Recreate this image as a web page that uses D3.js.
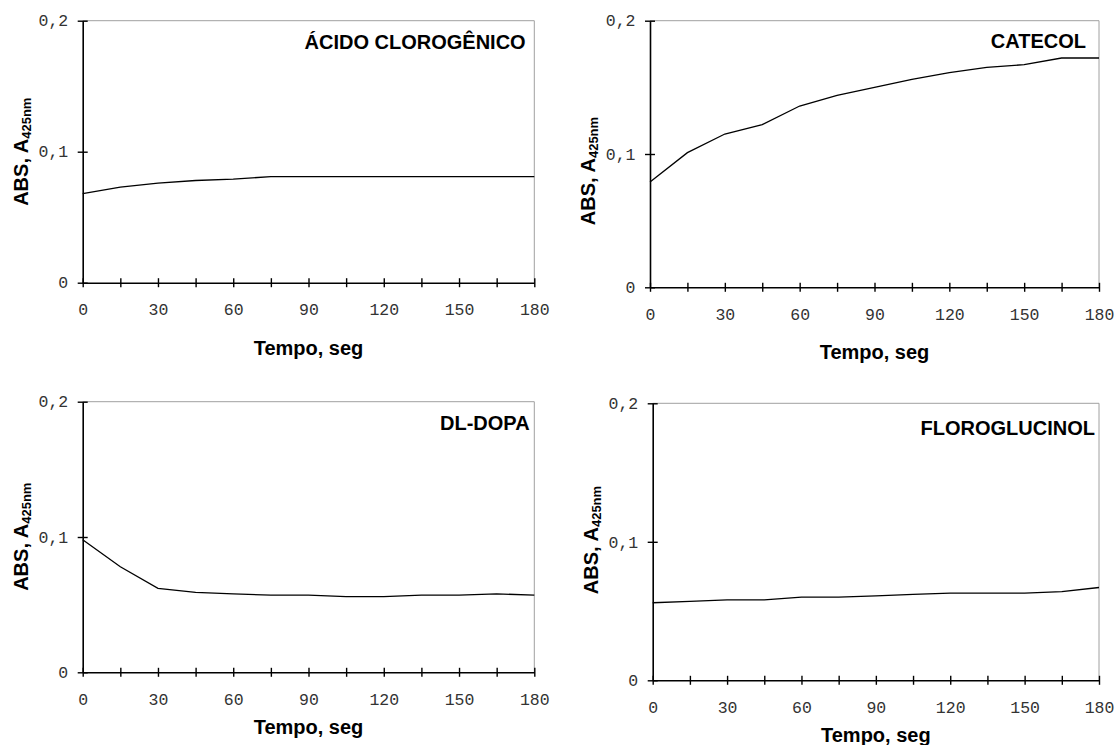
<!DOCTYPE html>
<html>
<head>
<meta charset="utf-8">
<script src="https://cdn.jsdelivr.net/npm/d3@7"></script>
<style>
  html, body { margin: 0; padding: 0; background: #fff; }
  svg { display: block; }
  .tick text { font-family: "Liberation Mono", "Courier New", monospace; font-size: 16.5px; fill: #333; }
  .ttl { font-family: "Liberation Sans", Arial, sans-serif; font-weight: bold; fill: #000; }
</style>
</head>
<body>
<svg id="chart" width="1116" height="745"></svg>
<script>
// Sampling times (s) and absorbance readings at 425 nm for each substrate
const times = [0, 15, 30, 45, 60, 75, 90, 105, 120, 135, 150, 165, 180];
const acidoClorogenico = [0.068, 0.073, 0.076, 0.078, 0.079, 0.081, 0.081, 0.081, 0.081, 0.081, 0.081, 0.081, 0.081];
const catecol = [0.079, 0.101, 0.115, 0.122, 0.136, 0.144, 0.150, 0.156, 0.161, 0.165, 0.167, 0.172, 0.172];
const dlDopa = [0.098, 0.078, 0.062, 0.059, 0.058, 0.057, 0.057, 0.056, 0.056, 0.057, 0.057, 0.058, 0.057];
const floroglucinol = [0.056, 0.057, 0.058, 0.058, 0.060, 0.060, 0.061, 0.062, 0.063, 0.063, 0.063, 0.064, 0.067];

const panelTitles = ["ÁCIDO CLOROGÊNICO", "CATECOL", "DL-DOPA", "FLOROGLUCINOL"];
const xTickLabels = [0, 30, 60, 90, 120, 150, 180];
const yTickValues = [0, 0.1, 0.2];
const xTitle = "Tempo, seg";

const seriesList = [acidoClorogenico, catecol, dlDopa, floroglucinol];

// Frame of each small plot: left, right, top, bottom, y-title centre, x-title centre
const frames = [
  { l: 82.7, r: 534.3, t: 20.7, b: 282.7, yTitleY: 151.7, xTitleY: 348 },
  { l: 650, r: 1099, t: 20.7, b: 287.3, yTitleY: 171, xTitleY: 352 },
  { l: 82.7, r: 534.3, t: 401.7, b: 672.3, yTitleY: 536.7, xTitleY: 726.7 },
  { l: 652.7, r: 1099, t: 403.3, b: 680.3, yTitleY: 540, xTitleY: 735 }
];

const svg = d3.select("#chart");
const fmtY = d => d === 0 ? "0" : d3.format(".1f")(d).replace(".", ",");

seriesList.forEach((values, i) => {
  const f = frames[i];
  const x = d3.scaleLinear().domain([0, 180]).range([f.l, f.r]);
  const y = d3.scaleLinear().domain([0, 0.2]).range([f.b, f.t]);
  const g = svg.append("g");

  // light frame on top and right
  g.append("line").attr("x1", f.l).attr("x2", f.r).attr("y1", f.t).attr("y2", f.t)
    .attr("stroke", "#a0a0a0").attr("stroke-width", 1);
  g.append("line").attr("x1", f.r).attr("x2", f.r).attr("y1", f.t).attr("y2", f.b)
    .attr("stroke", "#a0a0a0").attr("stroke-width", 1);

  // x axis: ticks every 15 s crossing the axis, labels every 30 s
  const xa = g.append("g").attr("transform", `translate(0,${f.b})`)
    .call(d3.axisBottom(x).tickValues(times)
      .tickFormat(d => xTickLabels.includes(d) ? d : "")
      .tickSizeInner(4.5).tickSizeOuter(0).tickPadding(16));
  xa.select(".domain").attr("stroke", "#000").attr("stroke-width", 1.6);
  xa.selectAll(".tick line").attr("y1", -4.5).attr("y2", 4.5).attr("stroke", "#000").attr("stroke-width", 1.4);

  // y axis
  const ya = g.append("g").attr("transform", `translate(${f.l},0)`)
    .call(d3.axisLeft(y).tickValues(yTickValues).tickFormat(fmtY)
      .tickSizeInner(5).tickSizeOuter(0).tickPadding(9.5));
  ya.select(".domain").attr("stroke", "#000").attr("stroke-width", 1.6);
  ya.selectAll(".tick line").attr("x1", -5).attr("x2", 5).attr("stroke", "#000").attr("stroke-width", 1.4);

  // data line
  g.append("path")
    .datum(times.map((t, k) => [t, values[k]]))
    .attr("fill", "none").attr("stroke", "#000").attr("stroke-width", 1.3)
    .attr("d", d3.line().x(d => x(d[0])).y(d => y(d[1])));

  // substrate name
  const titleRight = [525.7, 1086, 529.6, 1095][i];
  const titleBase = [49.3, 48.3, 430, 435][i];
  g.append("text").attr("class", "ttl")
    .attr("x", titleRight).attr("y", titleBase)
    .attr("text-anchor", "end").attr("font-size", 20)
    .text(panelTitles[i]);

  // x title
  g.append("text").attr("class", "ttl")
    .attr("x", (f.l + f.r) / 2).attr("y", f.xTitleY).attr("dy", "0.36em")
    .attr("text-anchor", "middle").attr("font-size", 20)
    .text(xTitle);

  // y title with subscript
  const yt = g.append("text").attr("class", "ttl")
    .attr("transform", `translate(${f.l - 55},${f.yTitleY}) rotate(-90)`)
    .attr("text-anchor", "middle").attr("font-size", 20);
  yt.append("tspan").text("ABS, A");
  yt.append("tspan").attr("font-size", 13).attr("dy", 3).text("425nm");
});
</script>
</body>
</html>
